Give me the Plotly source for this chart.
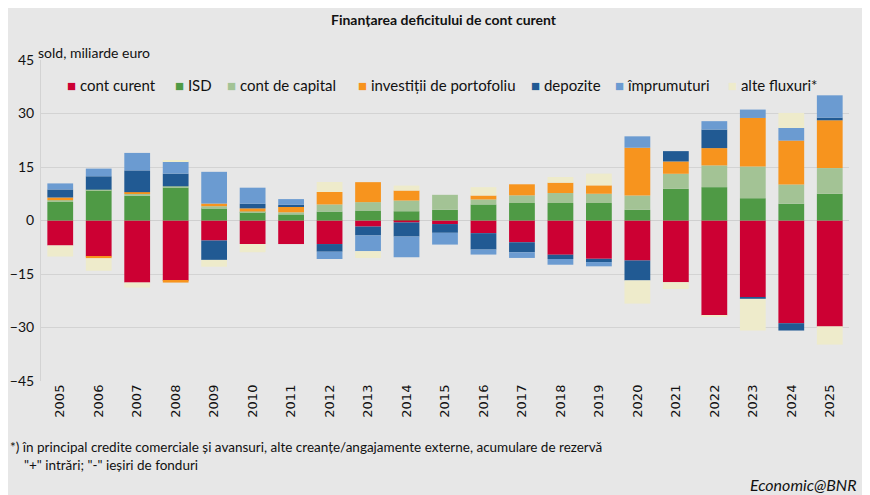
import plotly.graph_objects as go

years = [str(y) for y in range(2005, 2026)]

cont_curent = [-7.0, -10.1, -17.4, -16.9, -5.6, -6.6, -6.6, -6.6, -1.7, -0.55, -1.0,
               -3.55, -6.1, -9.6, -10.75, -11.2, -17.3, -26.6, -21.5, -28.8, -29.7]
isd = [5.2, 8.45, 6.95, 9.2, 3.5, 2.35, 1.7, 2.5, 2.8, 2.6, 3.0,
       4.5, 4.9, 4.9, 4.9, 3.0, 8.9, 9.35, 6.25, 4.7, 7.5]
cont_capital = [0.5, 0.2, 0.6, 0.4, 0.5, 0.2, 0.6, 2.0, 2.35, 3.0, 4.2,
                1.4, 2.15, 2.8, 2.6, 4.0, 4.2, 6.1, 8.9, 5.4, 7.2]
portofoliu = [0.75, -0.5, 0.4, -0.5, 0.75, 0.85, 1.6, 3.5, 5.6, 2.8, 0.0,
              1.1, 3.1, 2.9, 2.35, 13.4, 3.45, 4.85, 13.6, 12.3, 13.4]
depozite = [2.25, 3.75, 6.1, 3.55, -5.45, 1.3, 0.5, -2.15, -2.5, -3.95, -2.45,
            -4.6, -2.8, -1.2, -0.9, -5.6, 2.9, 5.2, -0.45, -2.05, 0.75]
imprumuturi = [1.7, 2.15, 4.9, 3.3, 8.9, 4.5, 1.6, -2.05, -4.4, -5.8, -3.3,
               -1.4, -1.6, -1.6, -1.2, 3.2, 0.0, 2.35, 2.35, 3.55, 6.25]
alte_fluxuri = [-3.1, -3.5, -1.4, 0.3, -1.9, -2.3, 0.0, 2.8, -1.9, 1.4, 0.0,
                2.35, 0.0, 1.6, 3.3, -6.5, -1.9, -0.3, -8.9, 4.2, -5.1]

series = [
    ('cont curent', cont_curent, '#CC0033'),
    ('ISD', isd, '#4F9A45'),
    ('cont de capital', cont_capital, '#A3C395'),
    ('investiții de portofoliu', portofoliu, '#F7941E'),
    ('depozite', depozite, '#215A93'),
    ('împrumuturi', imprumuturi, '#6B9BD1'),
    ('alte fluxuri*', alte_fluxuri, '#EEEBCB'),
]

# where each legend entry starts (window px), one row like the original
legend_x = [65, 173, 225, 356, 529, 613, 726]

font = 'Lato, Noto Sans, sans-serif'

# page body has an 8px margin, so the figure is a bit smaller than the window
W, H = 862, 487
L, R, T, B = 33, 21, 52, 114
plot_w = W - L - R
plot_h = H - T - B


def xp(x):
    # window pixel -> paper x
    return (x - 8 - L) / plot_w


def yp(y):
    # window pixel -> paper y
    return (H - B - (y - 8)) / plot_h


fig = go.Figure()
for name, vals, color in series:
    fig.add_trace(go.Bar(x=years, y=vals, name=name, marker_color=color,
                         marker_line_width=0, showlegend=False))

fig.update_layout(
    width=W, height=H,
    barmode='relative',
    bargap=0.33,
    paper_bgcolor='#E7E7E7',
    plot_bgcolor='#E7E7E7',
    margin=dict(l=L, r=R, t=T, b=B),
    font=dict(family=font, size=14, color='#111111'),
    xaxis=dict(type='category', tickangle=-90, showgrid=False, automargin=False,
               tickfont=dict(family='DejaVu Sans', size=13), ticks=''),
    yaxis=dict(range=[-45, 45], tickvals=[-45, -30, -15, 0, 15, 30, 45],
               showgrid=True, gridcolor='#D3D3D3', gridwidth=1,
               zeroline=True, zerolinecolor='#CFCFCF', zerolinewidth=1,
               showline=True, linecolor='#D3D3D3', ticks='', automargin=False,
               ticklabelstandoff=3, tickfont=dict(size=14)),
)

# legend drawn as a single row of text entries
for (name, _, color), lx in zip(series, legend_x):
    fig.add_annotation(text=f'<span style="color:{color}">■</span> {name}',
                       x=xp(lx), y=yp(85), xref='paper', yref='paper',
                       xanchor='left', yanchor='middle', showarrow=False,
                       font=dict(size=15))

fig.add_annotation(text='<b>Finanțarea deficitului de cont curent</b>',
                   x=xp(444), y=yp(19), xref='paper', yref='paper',
                   xanchor='center', yanchor='middle', showarrow=False,
                   font=dict(size=14))
fig.add_annotation(text='sold, miliarde euro', x=xp(36), y=yp(52),
                   xref='paper', yref='paper', xanchor='left', yanchor='middle',
                   showarrow=False, font=dict(size=14))
fig.add_annotation(text='*) în principal credite comerciale și avansuri, alte creanțe/angajamente externe, acumulare de rezervă',
                   x=xp(8), y=yp(447), xref='paper', yref='paper',
                   xanchor='left', yanchor='middle', showarrow=False,
                   font=dict(size=13.5))
fig.add_annotation(text='"+" intrări; "-" ieșiri de fonduri',
                   x=xp(22), y=yp(465), xref='paper', yref='paper',
                   xanchor='left', yanchor='middle', showarrow=False,
                   font=dict(size=13.5))
fig.add_annotation(text='<i>Economic@BNR</i>', x=xp(859), y=yp(484),
                   xref='paper', yref='paper', xanchor='right', yanchor='middle',
                   showarrow=False, font=dict(size=16))

# dark frame edge on the right
fig.add_shape(type='rect', xref='paper', yref='paper',
              x0=xp(867), x1=xp(871), y0=yp(496), y1=yp(10),
              fillcolor='#111111', line_width=0, layer='above')

fig.write_html('out.html')
